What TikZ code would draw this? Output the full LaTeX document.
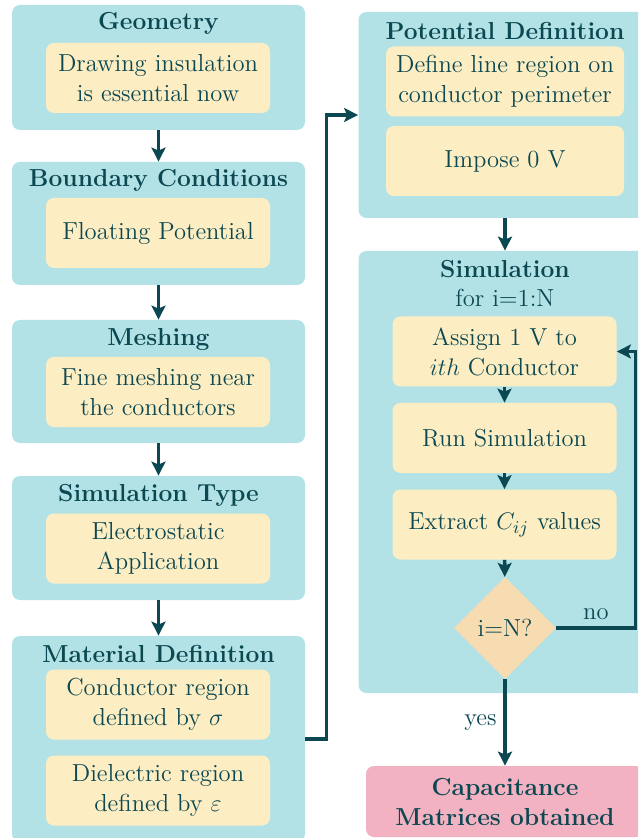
\documentclass[tikz,border=0pt]{standalone}
\usepackage{amsmath}
\usepackage{amssymb}
\usepackage{tikz}
\usepackage{xcolor}
\usetikzlibrary{shapes.geometric,arrows.meta}
\definecolor{stagefill}{HTML}{B2E2E6}
\definecolor{taskfill}{HTML}{FDEDC2}
\definecolor{testfill}{HTML}{F7DBB1}
\definecolor{donefill}{HTML}{F2B2C2}
\definecolor{ink}{HTML}{0B4852}
\newcommand{\boxfont}{\fontsize{12.3}{15}\selectfont}

\begin{document}
\begin{tikzpicture}[x=0.5pt,y=-0.5pt,
    stage/.style={fill=stagefill, rounded corners=4pt, minimum width=146.5pt},
    task/.style={fill=taskfill, rounded corners=4pt, minimum width=112pt, minimum height=35pt, align=center, font=\boxfont, text=ink},
    head/.style={font=\boxfont\bfseries, text=ink},
    arr/.style={-{Stealth[length=7pt,width=7pt,inset=1.5pt]}, line width=1.8pt, draw=ink}]
    \clip (0,0) rectangle (638,838);
    % left column
    \node [stage, minimum height=62.5pt] (geo) at (158.5,67.5) {};
    \node [stage, minimum height=61.5pt] (bc) at (158.5,223.5) {};
    \node [stage, minimum height=61.5pt] (mesh) at (158.5,381.5) {};
    \node [stage, minimum height=62pt] (simt) at (158.5,538) {};
    \node [stage, minimum height=103pt] (mat) at (158.5,739) {};
    % right column
    \node [stage, minimum height=103pt] (pot) at (505,115) {};
    \node [stage, minimum height=221pt] (sim) at (505,472) {};
    \node [fill=donefill, rounded corners=4pt, minimum width=139pt, minimum height=35.5pt, align=center, font=\boxfont\bfseries, text=ink] (cap) at (505,801.5) {Capacitance\\Matrices obtained};

    \node [head] (geoT) at (158.5,23) {Geometry};
    \node [task] (geoA) at (158,78) {Drawing insulation\\is essential now};
    \node [head] (bcT) at (158.5,180) {Boundary Conditions};
    \node [task] (bcA) at (158,233) {Floating Potential};
    \node [head] (meshT) at (158.5,339) {Meshing};
    \node [task] (meshA) at (158,392) {Fine meshing near\\the conductors};
    \node [head] (simtT) at (158.5,495) {Simulation Type};
    \node [task] (simtA) at (158,548.5) {Electrostatic\\Application};
    \node [head] (matT) at (158.5,654) {Material Definition};
    \node [task] (matA) at (158,704.5) {Conductor region\\defined by $\sigma$};
    \node [task] (matB) at (158,790.5) {Dielectric region\\defined by $\varepsilon$};

    \node [head] (potT) at (505,31) {Potential Definition};
    \node [task, minimum width=119pt] (potA) at (505,81.5) {Define line region on\\conductor perimeter};
    \node [task, minimum width=119pt] (potB) at (505,161) {Impose 0 V};
    \node [head] (simT) at (505,269) {Simulation};
    \node [font=\boxfont, text=ink] (simL) at (505,298) {for i=1:N};
    \node [task] (assign) at (504.5,351.5) {Assign 1 V to\\$ith$ Conductor};
    \node [task] (run) at (504.5,438) {Run Simulation};
    \node [task] (extract) at (504.5,524.5) {Extract $C_{ij}$ values};
    \node [diamond, fill=testfill, minimum width=51pt, minimum height=51pt, inner sep=0pt, font=\boxfont, text=ink] (dec) at (505,628) {i=N?};

    \draw [arr] (geo) -- (bc);
    \draw [arr] (bc) -- (mesh);
    \draw [arr] (mesh) -- (simt);
    \draw [arr] (simt) -- (mat);
    \draw [arr] (mat.east) -- ++(21,0) |- (pot.west);
    \draw [arr] (pot) -- (sim);
    \draw [arr] (assign) -- (run);
    \draw [arr] (run) -- (extract);
    \draw [arr] (extract) -- (dec);
    \draw [arr] (dec.east) -- ++(79,0) node[pos=0.5, above, font=\boxfont, text=ink]{no} |- (assign.east);
    \draw [arr] (dec) -- (cap) node[midway, left, font=\boxfont, text=ink]{yes};
\end{tikzpicture}
\end{document}
